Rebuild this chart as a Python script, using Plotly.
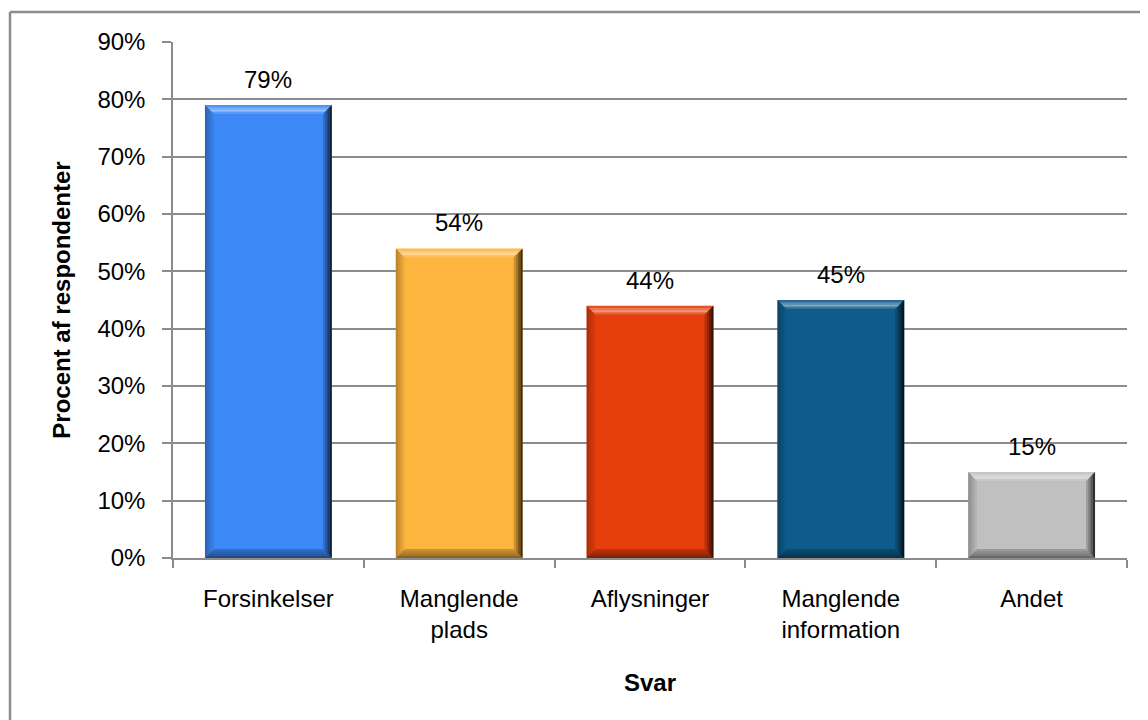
import plotly.graph_objects as go

categories = ["Forsinkelser", "Manglende<br>plads", "Aflysninger", "Manglende<br>information", "Andet"]
values = [0.79, 0.54, 0.44, 0.45, 0.15]
labels = ["79%", "54%", "44%", "45%", "15%"]
colors = ["#3C88F6", "#FDB53E", "#E63E0C", "#0F5C8C", "#C0C0C0"]
yticks = [0, 0.1, 0.2, 0.3, 0.4, 0.5, 0.6, 0.7, 0.8, 0.9]

# page body has an 8px default margin, so the figure is 8px smaller and offset
OFF = 8
W, H = 1148 - OFF, 720 - OFF
ML, MT = 173 - OFF, 42 - OFF
MR = W - (1127 - OFF)
MB = H - (558 - OFF)
XMIN, XMAX, YMAX = -0.5, 4.5, 0.9
BARW = 0.665
FONT = "Liberation Sans, Arial, sans-serif"

xs = list(range(len(categories)))
fig = go.Figure()
fig.add_trace(go.Bar(x=xs, y=values, width=BARW, marker=dict(color=colors, line=dict(width=0)),
                     hoverinfo="skip"))

# bevel overlays computed from data
px_x = (XMAX - XMIN) / (W - ML - MR)
px_y = YMAX / (H - MT - MB)
shapes = []
def poly(pts, fill):
    d = "M " + " L ".join(f"{a},{b}" for a, b in pts) + " Z"
    shapes.append(dict(type="path", path=d, xref="x", yref="y", fillcolor=fill, line=dict(width=0), layer="above"))

for x, v in zip(xs, values):
    x0, x1 = x - BARW / 2, x + BARW / 2
    y0, y1 = 0, v
    n = 4
    for k in range(n):
        a = 9 * k / n; b = 9 * (k + 1) / n
        ax, bx = a * px_x, b * px_x
        ay, by = a * px_y, b * px_y
        op_top = [0.10, 0.30, 0.45, 0.15][k]
        poly([(x0 + ax, y1 - ay), (x1 - ax, y1 - ay), (x1 - bx, y1 - by), (x0 + bx, y1 - by)], f"rgba(255,255,255,{op_top})")
        op_r = [0.75, 0.55, 0.35, 0.18][k]
        poly([(x1 - ax, y1 - ay), (x1 - ax, y0 + ay), (x1 - bx, y0 + by), (x1 - bx, y1 - by)], f"rgba(0,0,0,{op_r})")
        op_b = [0.45, 0.35, 0.28, 0.2][k]
        poly([(x0 + ax, y0 + ay), (x1 - ax, y0 + ay), (x1 - bx, y0 + by), (x0 + bx, y0 + by)], f"rgba(0,0,0,{op_b})")
        op_l = [0.25, 0.18, 0.12, 0.06][k]
        poly([(x0 + ax, y1 - ay), (x0 + ax, y0 + ay), (x0 + bx, y0 + by), (x0 + bx, y1 - by)], f"rgba(0,0,0,{op_l})")

# outer frame (top and left) of the chart area
fx = (10 - OFF - ML) / (W - ML - MR)
fy = 1 + (MT - (12 - OFF)) / (H - MT - MB)
shapes.append(dict(type="line", xref="paper", yref="paper", x0=fx, x1=1.2, y0=fy, y1=fy,
                   line=dict(color="#8C8C8C", width=2.5), layer="above"))
shapes.append(dict(type="line", xref="paper", yref="paper", x0=fx, x1=fx, y0=fy, y1=-1,
                   line=dict(color="#8C8C8C", width=2.5), layer="above"))

annotations = [dict(x=x, y=v, text=t, showarrow=False, xref="x", yref="y", yanchor="bottom",
                    yshift=10, font=dict(size=24, color="black", family=FONT))
               for x, v, t in zip(xs, values, labels)]

fig.update_layout(
    width=W, height=H, margin=dict(l=ML, r=MR, t=MT, b=MB),
    paper_bgcolor="white", plot_bgcolor="white", showlegend=False,
    font=dict(family=FONT, size=24, color="black"),
    shapes=shapes, annotations=annotations,
    xaxis=dict(range=[XMIN, XMAX], tickvals=xs, ticktext=categories, ticks="", showgrid=False,
               showline=True, linecolor="#8C8C8C", linewidth=1.5, ticklabelstandoff=18,
               minor=dict(tickvals=[i - 0.5 for i in range(len(categories) + 1)], ticks="outside",
                          ticklen=8, tickcolor="#8C8C8C", tickwidth=1.5, showgrid=False),
               title=dict(text="<b>Svar</b>", font=dict(size=24), standoff=32), zeroline=False,
               fixedrange=True),
    yaxis=dict(range=[0, YMAX], tickvals=yticks, tickformat=".0%", ticks="outside", ticklen=9,
               tickcolor="#8C8C8C", tickwidth=1.5, showgrid=True, gridcolor="#8C8C8C", gridwidth=1.5,
               showline=True, linecolor="#8C8C8C", linewidth=1.5, ticklabelstandoff=12,
               title=dict(text="<b>Procent af respondenter</b>", font=dict(size=24), standoff=20),
               zeroline=False, fixedrange=True),
)

fig.write_html("out.html")
